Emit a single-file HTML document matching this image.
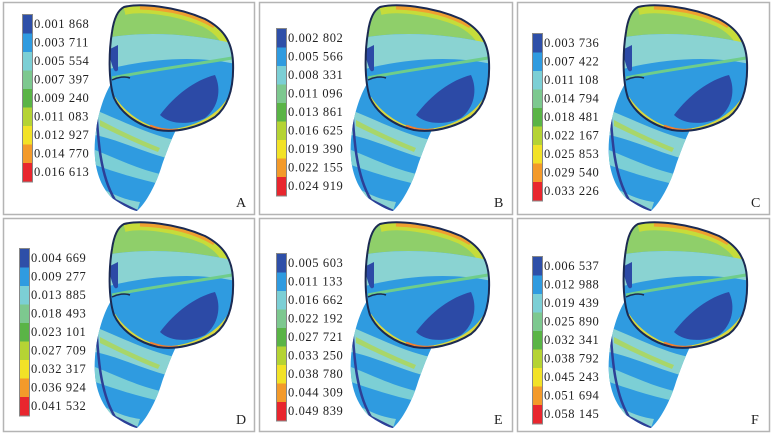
<!DOCTYPE html>
<html><head><meta charset="utf-8">
<style>
html,body{margin:0;padding:0;background:#fff;}
body{width:772px;height:433px;position:relative;overflow:hidden;font-family:"Liberation Serif",serif;}
svg{position:absolute;left:0;top:0;}
</style></head>
<body>
<svg id="fig" width="772" height="433" viewBox="0 0 772 433">
<defs>
<clipPath id="crownClip"><path d="M124,7 C140,3 175,6 205,19 C222,28 232,40 233,62 C234,85 230,105 215,117 C198,128 175,133 158,130 C140,126 122,115 114,98 C108,80 109,50 112,32 C114,18 118,10 124,7 Z"/></clipPath>
<clipPath id="rootClip"><path d="M112,82 C104,95 97,115 95,140 C93,165 99,185 112,198 C122,205 131,210 137,211 C146,203 156,185 162,165 C168,148 172,138 176,130 C160,128 138,120 122,105 C116,98 113,90 112,82 Z"/></clipPath>
<g id="tooth">
<g clip-path="url(#rootClip)">
<rect x="90" y="75" width="100" height="140" fill="#2f9be0"/>
<path d="M95,110 C120,120 150,135 175,140 L175,160 C150,155 120,140 95,135 Z" fill="#8ad3d2"/>
<path d="M95,150 C120,160 140,170 165,175 L165,185 C140,180 115,172 95,165 Z" fill="#7ccfd5"/>
<path d="M100,120 C115,128 135,138 160,148 L158,152 C135,143 115,133 100,126 Z" fill="#a8d66a"/>
<path d="M105,190 C115,195 125,200 140,202 L137,211 C125,205 112,200 105,195 Z" fill="#8ad3d2"/>
<path d="M96,105 C98,140 100,175 115,200 L137,211" fill="none" stroke="#2d3f96" stroke-width="2.5"/>
</g>
<g clip-path="url(#crownClip)">
<rect x="105" y="0" width="135" height="140" fill="#2f9be0"/>
<path d="M105,0 L240,0 L240,45 C200,35 150,30 105,38 Z" fill="#8fcf6a"/>
<path d="M124,9 C140,5 175,8 205,21 C220,29 230,40 231,55" fill="none" stroke="#c6dc3a" stroke-width="12"/>
<path d="M140,6 C170,7 195,13 215,25" fill="none" stroke="#f0a030" stroke-width="7"/>
<path d="M160,6 C180,9 195,13 210,20" fill="none" stroke="#e8402e" stroke-width="3"/>
<path d="M105,38 C150,30 200,35 240,45 L240,65 C200,55 150,58 105,70 Z" fill="#8ad3d2"/>
<path d="M160,115 C175,95 195,80 215,75 C222,90 218,108 205,118 C190,125 170,125 160,115 Z" fill="#2c4aa6"/>
<path d="M108,50 C112,65 114,75 118,70 L118,45 Z" fill="#2c4aa6"/>
<path d="M112,78 C140,72 190,65 232,58" fill="none" stroke="#6fcd8a" stroke-width="3"/>
<path d="M114,98 C125,115 145,128 165,131 C190,130 215,120 228,100" fill="none" stroke="#d8d840" stroke-width="3"/>
<path d="M150,126 C160,130 170,131 178,130" fill="none" stroke="#f08030" stroke-width="3"/>
</g>
<path d="M124,7 C140,3 175,6 205,19 C222,28 232,40 233,62 C234,85 230,105 215,117 C198,128 175,133 158,130 C140,126 122,115 114,98 C108,80 109,50 112,32 C114,18 118,10 124,7 Z" fill="none" stroke="#1b2a52" stroke-width="2"/>
<path d="M112,80 C118,77 125,76 130,78" fill="none" stroke="#1b2a52" stroke-width="1.5"/>
</g>
</defs>
<g id="panels"></g>
</svg>
<script>
const panelLetters = ["A","B","C","D","E","F"];
const legendA = ["0.001 868","0.003 711","0.005 554","0.007 397","0.009 240","0.011 083","0.012 927","0.014 770","0.016 613"];
const legendB = ["0.002 802","0.005 566","0.008 331","0.011 096","0.013 861","0.016 625","0.019 390","0.022 155","0.024 919"];
const legendC = ["0.003 736","0.007 422","0.011 108","0.014 794","0.018 481","0.022 167","0.025 853","0.029 540","0.033 226"];
const legendD = ["0.004 669","0.009 277","0.013 885","0.018 493","0.023 101","0.027 709","0.032 317","0.036 924","0.041 532"];
const legendE = ["0.005 603","0.011 133","0.016 662","0.022 192","0.027 721","0.033 250","0.038 780","0.044 309","0.049 839"];
const legendF = ["0.006 537","0.012 988","0.019 439","0.025 890","0.032 341","0.038 792","0.045 243","0.051 694","0.058 145"];
const legendColors = ["#2e4fa8","#2f9be0","#7ccfd5","#7dc88f","#5ab446","#b5d334","#f2e227","#f39a2a","#e8262e"];
const legends=[legendA,legendB,legendC,legendD,legendE,legendF];
const NS="http://www.w3.org/2000/svg";
const root=document.getElementById('panels');
const px=[3,259,517], py=[2,218], pw=[251,253,252], ph=[212,213];
const legX=[23,277,533,20,277,533], legY=[15,29,34,249,254,257];
const step=18.5;
function mk(t,a){const e=document.createElementNS(NS,t);for(const k in a)e.setAttribute(k,a[k]);return e;}
for(let i=0;i<6;i++){
  const c=i%3,r=Math.floor(i/3);
  const g=mk('g',{});
  
  
  const frame=mk('rect',{x:px[c]+0.5,y:py[r]+0.5,width:pw[c],height:ph[r],fill:'#fff',stroke:'#b4b4b4','stroke-width':1.5});
  
  
  g.appendChild(frame);
  const u=mk('use',{href:'#tooth',transform:'translate('+(px[c]-3)+','+(py[r]-2+(r?1:0))+')'});
  
  
  g.appendChild(u);
  const vals=legends[i];
  const lg=mk('g',{});
  
  
  const bx=legX[i], by=legY[i];
  lg.appendChild(mk('rect',{x:bx-1,y:by-1,width:11,height:vals.length*step+2,fill:'#888'}));
  for(let k=0;k<vals.length;k++){
    const sw=mk('rect',{x:bx,y:by+k*step,width:9,height:step,fill:legendColors[k]});
    
    
    lg.appendChild(sw);
    const t=mk('text',{x:bx+11,y:by+k*step+13,'font-size':12.5,fill:'#222','font-family':'Liberation Serif, serif','letter-spacing':'0.6'});
    t.textContent=vals[k];
    
    
    lg.appendChild(t);
  }
  g.appendChild(lg);
  const L=mk('text',{x:px[c]+pw[c]-18,y:py[r]+ph[r]-7,'font-size':14,fill:'#222','font-family':'Liberation Serif, serif'});
  L.textContent=panelLetters[i];
  
  
  g.appendChild(L);
  root.appendChild(g);
}
</script>
</body></html>
